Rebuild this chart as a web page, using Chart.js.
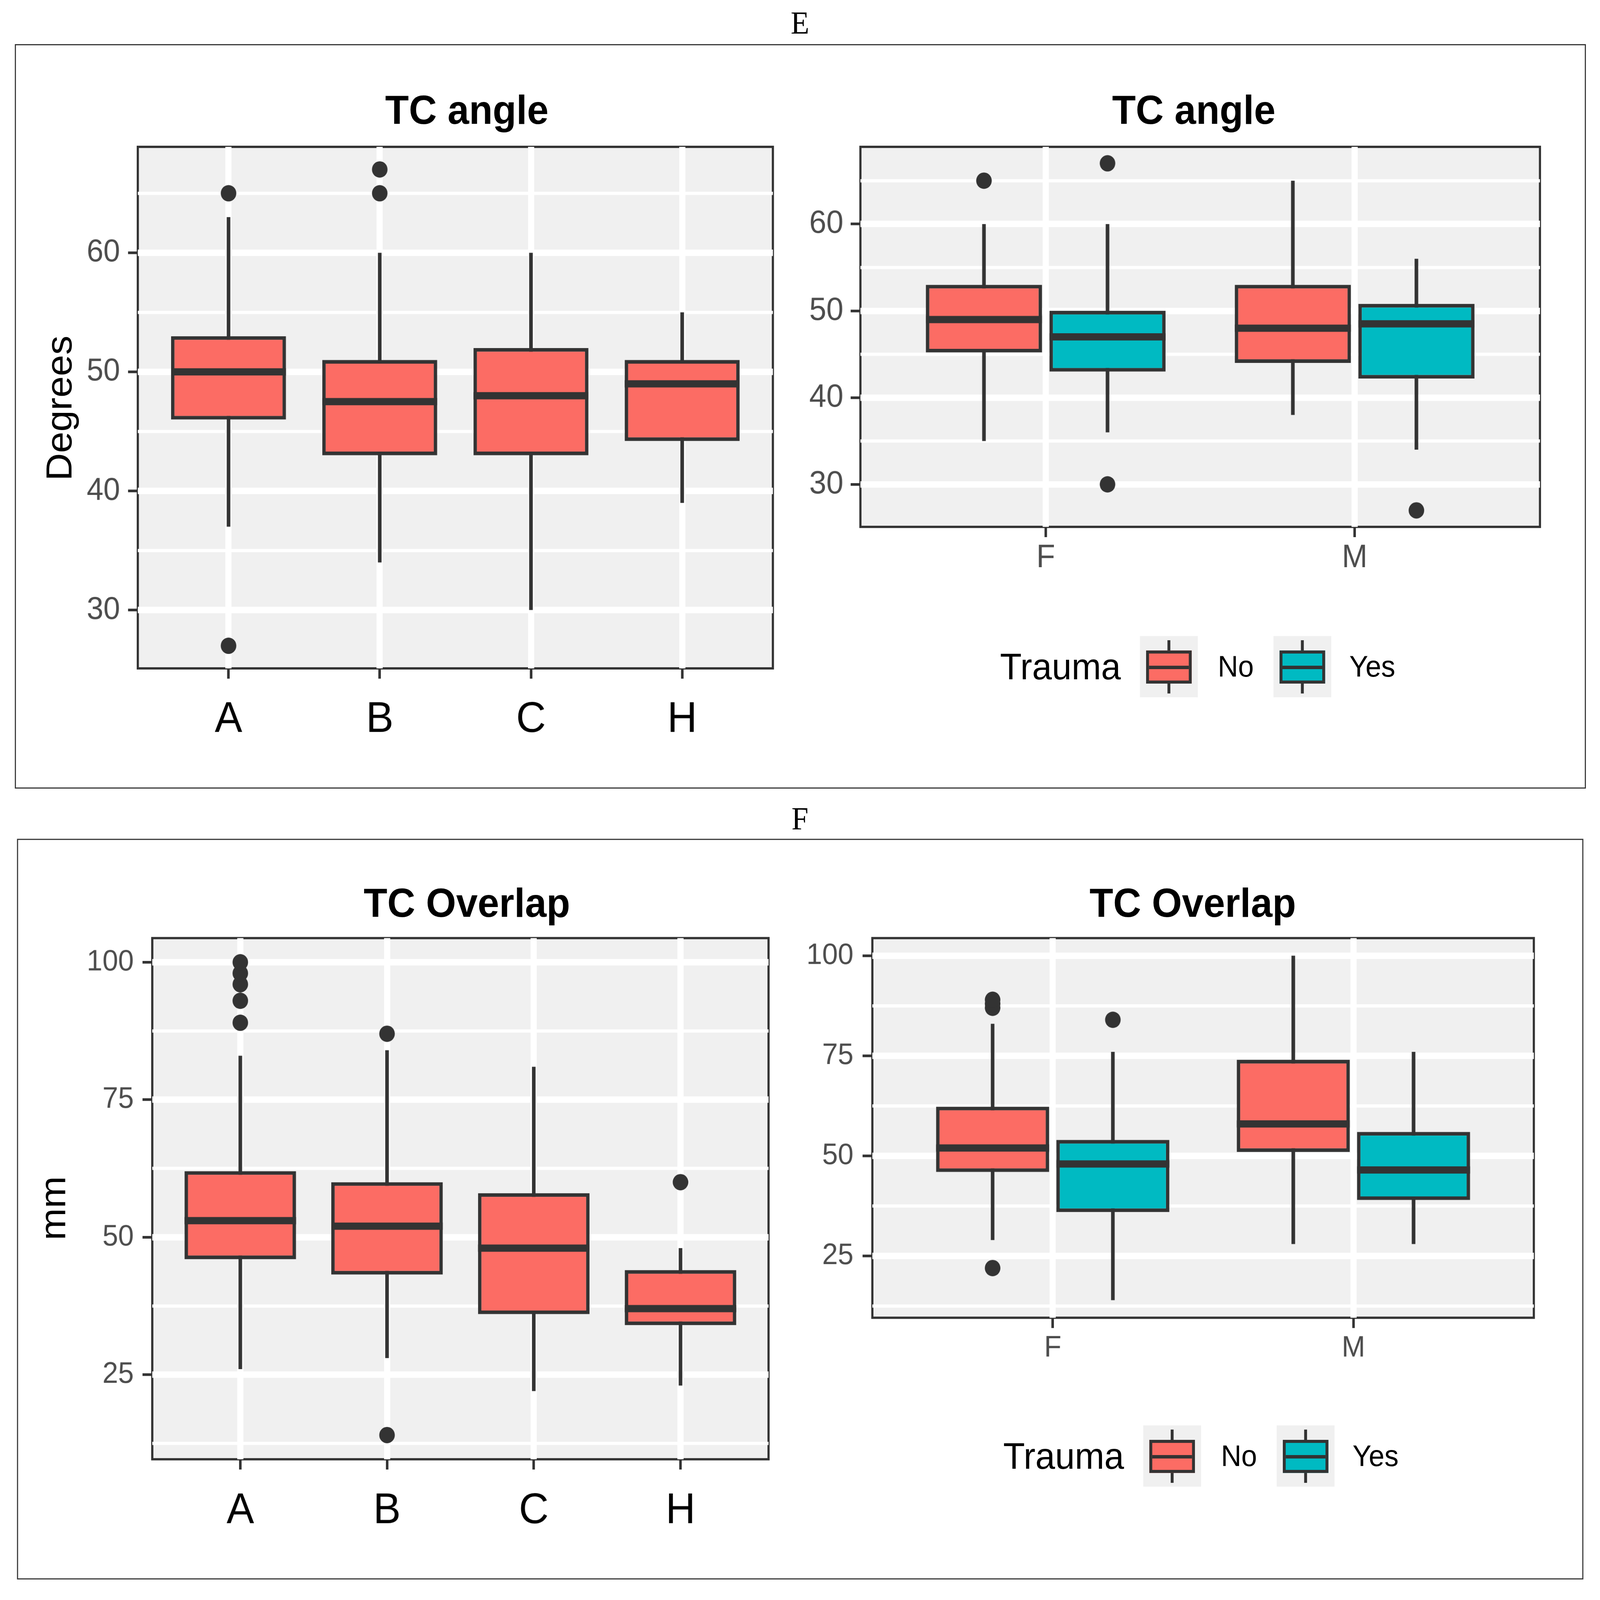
<!DOCTYPE html>
<html>
<head>
<meta charset="utf-8">
<title>TC angle / TC Overlap</title>
<script src="https://cdn.jsdelivr.net/npm/chart.js@4.4.1/dist/chart.umd.min.js"></script>
<style>
  html, body { margin: 0; padding: 0; background: #fff; overflow: hidden; }
  #page { width: 4424px; height: 4206px; position: absolute; left: 0; top: 0;
          transform-origin: 0 0; background: #fff;
          font-family: "Liberation Sans", Arial, sans-serif; color: #000; }
  .frame { position: absolute; border: 3px solid #333; box-sizing: border-box; }
  .tag { position: absolute; font-family: "Liberation Serif", "Times New Roman", serif;
         font-size: 84px; line-height: 1; transform: translateX(-50%); }
  .title { position: absolute; font-weight: bold; font-size: 107px; line-height: 1;
           transform: translateX(-50%); white-space: nowrap; }
  .ytitle { position: absolute; font-size: 101px; line-height: 1; white-space: nowrap;
            transform: translate(-50%, -50%) rotate(-90deg); }
  .plot { position: absolute; }
  .legend { position: absolute; height: 161px; display: flex; align-items: center; }
  .legend .head { font-size: 98px; margin-right: 53px; }
  .legend .lab { font-size: 78px; }
  .key { position: relative; width: 160px; height: 161px; background: #F0F0F0; }
  .key .wh { position: absolute; left: 76px; width: 8px; top: 11px; bottom: 10px; background: #333; }
  .key .bx { position: absolute; left: 17px; right: 17px; top: 38px; bottom: 36px;
             border: 8px solid #333; }
  .key .md { position: absolute; left: 0; right: 0; top: 50%; height: 9px; margin-top: -4px; background: #333; }
</style>
</head>
<body>
<div id="page">

<div class="frame" style="left:41px;top:116px;width:4344px;height:1957px;"></div>
<div class="frame" style="left:47px;top:2205px;width:4331px;height:1947px;"></div>
<div class="tag" style="left:2212px;top:18px;">E</div>
<div class="tag" style="left:2212px;top:2110px;">F</div>

<div class="title" style="left:1291px;top:235px;">TC angle</div>
<div class="title" style="left:3301px;top:235px;">TC angle</div>
<div class="title" style="left:1291px;top:2320px;">TC Overlap</div>
<div class="title" style="left:3298px;top:2320px;">TC Overlap</div>

<div class="ytitle" style="left:163px;top:1073px;">Degrees</div>
<div class="ytitle" style="left:146px;top:3176px;">mm</div>

<div class="legend" style="left:2765px;top:1672px;">
  <span class="head">Trauma</span>
  <div class="key" style="margin-right:55px;"><div class="wh"></div><div class="bx" style="background:#FC6C64;"><div class="md"></div></div></div>
  <span class="lab" style="margin-right:54px;">No</span>
  <div class="key" style="margin-right:50px;"><div class="wh"></div><div class="bx" style="background:#00BAC2;"><div class="md"></div></div></div>
  <span class="lab">Yes</span>
</div>
<div class="legend" style="left:2774px;top:3747px;">
  <span class="head">Trauma</span>
  <div class="key" style="margin-right:55px;"><div class="wh"></div><div class="bx" style="background:#FC6C64;"><div class="md"></div></div></div>
  <span class="lab" style="margin-right:54px;">No</span>
  <div class="key" style="margin-right:50px;"><div class="wh"></div><div class="bx" style="background:#00BAC2;"><div class="md"></div></div></div>
  <span class="lab">Yes</span>
</div>
</div>

<script>
// ---- data ----

// E left: TC angle by group
const groupLabels = ['A', 'B', 'C', 'H'];
const angleGrpLow  = [37, 34, 30, 39];
const angleGrpQ1   = [46, 43, 43, 44.2];
const angleGrpMed  = [50, 47.5, 48, 49];
const angleGrpQ3   = [53, 51, 52, 51];
const angleGrpHigh = [63, 60, 60, 55];
const angleGrpOut  = [[65, 27], [65, 67], [], []];

// E right: TC angle by sex and trauma
const sexLabels = ['F', 'M'];
const angleNoLow  = [35, 38];
const angleNoQ1   = [45.2, 44];
const angleNoMed  = [49, 48];
const angleNoQ3   = [53, 53];
const angleNoHigh = [60, 65];
const angleNoOut  = [[65], []];
const angleYesLow  = [36, 34];
const angleYesQ1   = [43, 42.2];
const angleYesMed  = [47, 48.5];
const angleYesQ3   = [50, 50.8];
const angleYesHigh = [60, 56];
const angleYesOut  = [[67, 30], [27]];

// F left: TC overlap by group
const overlapGrpLow  = [26, 28, 22, 23];
const overlapGrpQ1   = [46, 43.2, 36, 34];
const overlapGrpMed  = [53, 52, 48, 37];
const overlapGrpQ3   = [62, 60, 58, 44];
const overlapGrpHigh = [83, 84, 81, 48];
const overlapGrpOut  = [[89, 93, 96, 98, 100], [87, 14], [], [60]];

// F right: TC overlap by sex and trauma
const overlapNoLow  = [29, 28];
const overlapNoQ1   = [46, 51];
const overlapNoMed  = [52, 58];
const overlapNoQ3   = [62.3, 74];
const overlapNoHigh = [83, 100];
const overlapNoOut  = [[87, 88, 89, 22], []];
const overlapYesLow  = [14, 28];
const overlapYesQ1   = [36, 39];
const overlapYesMed  = [48, 46.5];
const overlapYesQ3   = [54, 56];
const overlapYesHigh = [76, 76];
const overlapYesOut  = [[84], []];

// axes
const angleRange = [25.1, 68.9];
const angleTicks = [30, 40, 50, 60];
const angleMinor = [35, 45, 55, 65];
const overlapRange = [9.6, 104.4];
const overlapTicks = [25, 50, 75, 100];
const overlapMinor = [12.5, 37.5, 62.5, 87.5];

// ---- drawing ----
const INK = '#333333';
const PANEL = '#F0F0F0';
const NO_FILL = '#FC6C64';
const YES_FILL = '#00BAC2';
const FONT = '"Liberation Sans", Arial, sans-serif';
const YW = 340, PAD = 12;
const page = document.getElementById('page');

// the window may be smaller than the 4424x4206 figure: stretch it to fill
page.style.transform = 'scale(' + (window.innerWidth / 4424) + ',' + (window.innerHeight / 4206) + ')';

// panel background, border, whiskers, medians and outliers
const boxPlugin = {
  id: 'boxPlugin',
  beforeDraw(chart) {
    const {ctx, chartArea: a} = chart;
    ctx.save();
    ctx.fillStyle = PANEL;
    ctx.fillRect(a.left, a.top, a.width, a.height);
    ctx.strokeStyle = INK;
    ctx.lineWidth = 6;
    ctx.strokeRect(a.left, a.top, a.width, a.height);
    ctx.restore();
  },
  beforeDatasetsDraw(chart) {
    const {ctx} = chart, y = chart.scales.y;
    chart.data.datasets.forEach((ds, di) => {
      chart.getDatasetMeta(di).data.forEach((bar, i) => {
        ctx.save();
        ctx.strokeStyle = INK;
        ctx.lineWidth = 10;
        ctx.beginPath();
        ctx.moveTo(bar.x, y.getPixelForValue(ds.low[i]));
        ctx.lineTo(bar.x, y.getPixelForValue(ds.high[i]));
        ctx.stroke();
        ctx.restore();
      });
    });
  },
  afterDatasetsDraw(chart) {
    const {ctx} = chart, y = chart.scales.y;
    chart.data.datasets.forEach((ds, di) => {
      chart.getDatasetMeta(di).data.forEach((bar, i) => {
        ctx.save();
        ctx.strokeStyle = INK;
        ctx.lineWidth = 19;
        const my = y.getPixelForValue(ds.med[i]);
        ctx.beginPath();
        ctx.moveTo(bar.x - bar.width / 2, my);
        ctx.lineTo(bar.x + bar.width / 2, my);
        ctx.stroke();
        ctx.fillStyle = INK;
        ds.out[i].forEach(v => {
          ctx.beginPath();
          ctx.arc(bar.x, y.getPixelForValue(v), 21.5, 0, Math.PI * 2);
          ctx.fill();
        });
        ctx.restore();
      });
    });
  }
};

function boxChart(spec) {
  const r = spec.rect;
  const w = YW + (r.r - r.l) + PAD, h = PAD + (r.b - r.t) + spec.xh;
  const div = document.createElement('div');
  div.className = 'plot';
  div.style.left = (r.l - YW) + 'px';
  div.style.top = (r.t - PAD) + 'px';
  div.style.width = w + 'px';
  div.style.height = h + 'px';
  const canvas = document.createElement('canvas');
  canvas.width = w; canvas.height = h;
  canvas.style.width = w + 'px'; canvas.style.height = h + 'px';
  div.appendChild(canvas);
  page.appendChild(div);

  const labels = spec.labels;
  const isMinor = v => spec.minor.includes(v);

  return new Chart(canvas.getContext('2d'), {
    type: 'bar',
    data: {
      datasets: spec.series.map(s => ({
        label: s.label,
        data: labels.map((_, i) => ({x: i + 1, y: [s.q1[i], s.q3[i]]})),
        backgroundColor: s.color,
        borderColor: INK,
        borderWidth: 9.6,
        borderSkipped: false,
        categoryPercentage: spec.catPct,
        barPercentage: spec.barPct,
        low: s.low, med: s.med, high: s.high, out: s.out,
      })),
    },
    options: {
      responsive: false,
      devicePixelRatio: 1,
      animation: false,
      layout: {padding: {top: PAD, right: PAD, left: 0, bottom: 0}},
      plugins: {legend: {display: false}, tooltip: {enabled: false}},
      scales: {
        x: {
          type: 'linear',
          min: 0.4,
          max: labels.length + 0.6,
          offset: false,
          afterBuildTicks: s => { s.ticks = labels.map((_, i) => ({value: i + 1})); },
          afterFit: s => { s.height = spec.xh; s.paddingLeft = 0; s.paddingRight = 0; },
          grid: {offset: false, color: '#FFFFFF', lineWidth: 17, drawTicks: true,
                 tickLength: 27, tickWidth: 7, tickColor: INK},
          border: {display: false},
          ticks: {
            autoSkip: false, maxRotation: 0,
            callback: v => labels[v - 1],
            color: spec.xColor,
            padding: spec.xPad,
            font: {family: FONT, size: spec.xFont},
          },
        },
        y: {
          type: 'linear',
          min: spec.range[0],
          max: spec.range[1],
          beginAtZero: false,
          afterBuildTicks: s => {
            s.ticks = spec.major.concat(spec.minor).sort((a, b) => a - b).map(v => ({value: v}));
          },
          afterFit: s => { s.width = YW; s.paddingTop = 0; s.paddingBottom = 0; },
          grid: {
            color: '#FFFFFF',
            lineWidth: c => (c.tick && isMinor(c.tick.value)) ? 8.5 : 17,
            drawTicks: true,
            tickLength: 27,
            tickWidth: 7,
            tickColor: c => (c.tick && isMinor(c.tick.value)) ? 'rgba(0,0,0,0)' : INK,
          },
          border: {display: false},
          ticks: {
            autoSkip: false,
            callback: v => isMinor(v) ? '' : String(v),
            color: '#4D4D4D',
            padding: spec.yPad,
            font: {family: FONT, size: spec.yFont},
          },
        },
      },
    },
    plugins: [boxPlugin],
  });
}

boxChart({
  rect: {l: 381, t: 386, r: 2137, b: 1757}, xh: 260,
  labels: groupLabels, range: angleRange, major: angleTicks, minor: angleMinor,
  catPct: 1, barPct: 0.76, yFont: 83, yPad: 22, xFont: 114, xPad: 40, xColor: '#000000',
  series: [{label: 'All', color: NO_FILL, low: angleGrpLow, q1: angleGrpQ1, med: angleGrpMed,
            q3: angleGrpQ3, high: angleGrpHigh, out: angleGrpOut}],
});

boxChart({
  rect: {l: 2379, t: 386, r: 4258, b: 1385}, xh: 180,
  labels: sexLabels, range: angleRange, major: angleTicks, minor: angleMinor,
  catPct: 0.8, barPct: 0.94, yFont: 85, yPad: 20, xFont: 85, xPad: 5, xColor: '#4D4D4D',
  series: [
    {label: 'No', color: NO_FILL, low: angleNoLow, q1: angleNoQ1, med: angleNoMed,
     q3: angleNoQ3, high: angleNoHigh, out: angleNoOut},
    {label: 'Yes', color: YES_FILL, low: angleYesLow, q1: angleYesQ1, med: angleYesMed,
     q3: angleYesQ3, high: angleYesHigh, out: angleYesOut},
  ],
});

boxChart({
  rect: {l: 421, t: 2466, r: 2125, b: 3836}, xh: 260,
  labels: groupLabels, range: overlapRange, major: overlapTicks, minor: overlapMinor,
  catPct: 1, barPct: 0.76, yFont: 78, yPad: 24, xFont: 114, xPad: 41, xColor: '#000000',
  series: [{label: 'All', color: NO_FILL, low: overlapGrpLow, q1: overlapGrpQ1, med: overlapGrpMed,
            q3: overlapGrpQ3, high: overlapGrpHigh, out: overlapGrpOut}],
});

boxChart({
  rect: {l: 2412, t: 2466, r: 4241, b: 3464}, xh: 180,
  labels: sexLabels, range: overlapRange, major: overlapTicks, minor: overlapMinor,
  catPct: 0.8, barPct: 0.94, yFont: 78, yPad: 25, xFont: 78, xPad: 7, xColor: '#4D4D4D',
  series: [
    {label: 'No', color: NO_FILL, low: overlapNoLow, q1: overlapNoQ1, med: overlapNoMed,
     q3: overlapNoQ3, high: overlapNoHigh, out: overlapNoOut},
    {label: 'Yes', color: YES_FILL, low: overlapYesLow, q1: overlapYesQ1, med: overlapYesMed,
     q3: overlapYesQ3, high: overlapYesHigh, out: overlapYesOut},
  ],
});
</script>
</body>
</html>
